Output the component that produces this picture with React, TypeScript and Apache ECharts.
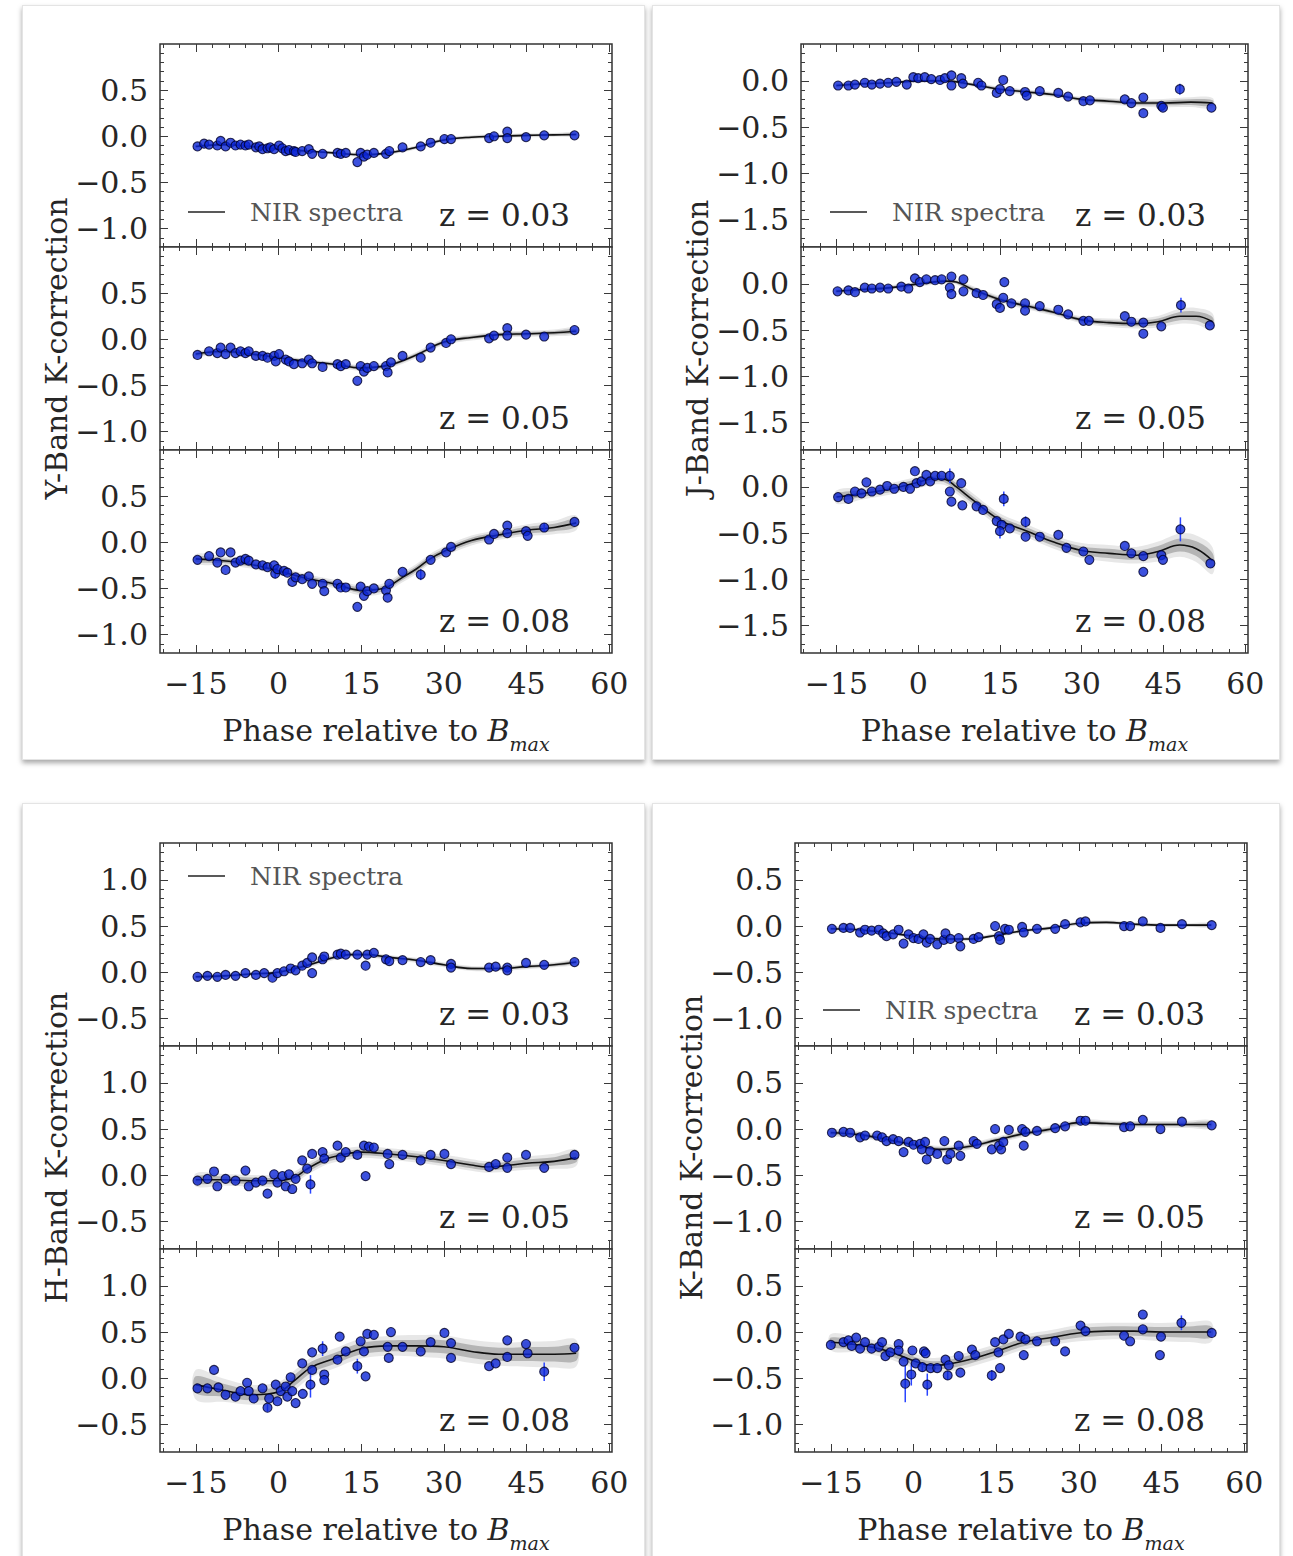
import React, { useEffect, useRef } from "react";
import * as echarts from "echarts";

const FONT = '"DejaVu Serif", serif';
const TEXT_C = "#262626";
const X_MIN = -21.5;
const X_MAX = 60.5;
const X_MAJOR = [-15, 0, 15, 30, 45, 60];
const X_MINOR_STEP = 3;
const Z_LABELS = ["z = 0.03", "z = 0.05", "z = 0.08"];
const LEGEND_TEXT = "NIR spectra";

const Y_TICKS_Y = [-1.0, -0.5, 0.0, 0.5];
const Y_TICKS_J = [-1.5, -1.0, -0.5, 0.0];
const Y_TICKS_H = [-0.5, 0.0, 0.5, 1.0];
const Y_TICKS_K = [-1.0, -0.5, 0.0, 0.5];

// ---------- Y band ----------
const Y_Z03 = [[-14.7,-0.11],[-13.5,-0.08],[-12.6,-0.09],[-11.1,-0.10],[-10.5,-0.05],[-9.6,-0.11],[-8.7,-0.07],[-7.8,-0.10],[-6.9,-0.09],[-6.0,-0.10],[-5.4,-0.09],[-4.1,-0.12],[-3.5,-0.11],[-2.9,-0.14],[-2.0,-0.13],[-1.5,-0.12],[-0.8,-0.14],[0.1,-0.10],[0.7,-0.13],[1.3,-0.16],[1.9,-0.15],[2.8,-0.16],[3.1,-0.17],[4.3,-0.16],[5.5,-0.14],[6.1,-0.19],[8.0,-0.19],[10.7,-0.18],[11.3,-0.19],[12.2,-0.18],[14.3,-0.28],[14.9,-0.18],[15.5,-0.22],[16.1,-0.20],[17.3,-0.18],[19.5,-0.19],[20.1,-0.16],[22.5,-0.12],[25.8,-0.11],[27.6,-0.07],[30.1,-0.03],[31.3,-0.03],[38.2,-0.02],[39.1,0.0],[41.5,0.05],[41.5,-0.02],[44.9,-0.01],[48.2,0.01],[53.7,0.01]];
const Y_FIT03 = [[-15,-0.11,0.01],[-10,-0.09,0.01],[-5,-0.11,0.01],[0,-0.14,0.01],[5,-0.16,0.01],[10,-0.18,0.01],[15,-0.2,0.012],[20,-0.18,0.012],[25,-0.12,0.012],[30,-0.04,0.012],[35,-0.01,0.012],[40,0.0,0.012],[45,0.01,0.012],[50,0.015,0.012],[54,0.02,0.012]];
const Y_Z05 = [[-14.7,-0.17],[-12.6,-0.13],[-11.1,-0.15],[-10.5,-0.09],[-9.6,-0.16],[-8.7,-0.09],[-7.8,-0.15],[-6.9,-0.13],[-6.0,-0.15],[-5.4,-0.13],[-4.1,-0.18],[-2.9,-0.18],[-2.0,-0.20],[-0.8,-0.18],[-0.5,-0.24],[0.1,-0.16],[1.3,-0.22],[1.9,-0.24],[2.8,-0.27],[4.3,-0.26],[5.5,-0.22],[6.1,-0.26],[8.0,-0.30],[10.7,-0.27],[11.3,-0.29],[12.2,-0.27],[14.3,-0.45],[14.9,-0.29],[15.5,-0.35],[16.1,-0.31],[17.3,-0.29],[19.5,-0.29],[19.8,-0.36],[20.4,-0.25],[22.5,-0.18],[25.8,-0.20],[27.6,-0.09],[30.4,-0.04],[31.3,0.0],[38.2,0.01],[39.1,0.04],[41.5,0.12],[41.5,0.04],[44.9,0.05],[48.2,0.03],[53.7,0.10]];
const Y_FIT05 = [[-15,-0.16,0.015],[-10,-0.13,0.015],[-5,-0.16,0.015],[0,-0.2,0.015],[5,-0.24,0.015],[10,-0.27,0.015],[15,-0.31,0.018],[20,-0.28,0.018],[25,-0.17,0.018],[30,-0.03,0.018],[35,0.02,0.018],[40,0.05,0.018],[45,0.06,0.018],[50,0.07,0.02],[54,0.09,0.02]];
const Y_Z08 = [[-14.7,-0.19],[-12.6,-0.15],[-11.1,-0.22],[-10.5,-0.11],[-9.6,-0.30],[-8.7,-0.11],[-7.8,-0.22],[-6.9,-0.20],[-6.0,-0.18],[-5.4,-0.20],[-4.1,-0.24],[-2.9,-0.25],[-2.0,-0.27],[-0.8,-0.25],[-0.6,-0.34,0.05],[-0.2,-0.29],[1.0,-0.31],[1.6,-0.33],[2.5,-0.43],[3.1,-0.38],[4.3,-0.40],[5.5,-0.37],[6.1,-0.45],[8.0,-0.45],[8.3,-0.53],[10.7,-0.45],[11.3,-0.49],[12.2,-0.49],[14.3,-0.70],[14.9,-0.48],[15.5,-0.58],[16.1,-0.53],[17.3,-0.50],[19.5,-0.52],[19.8,-0.60],[20.1,-0.45],[22.5,-0.32],[25.8,-0.35,0.06],[27.6,-0.19],[30.4,-0.11],[31.3,-0.05],[38.2,0.03],[39.1,0.09],[41.5,0.18],[41.5,0.10],[44.9,0.12],[45.2,0.07],[48.2,0.16,0.05],[53.7,0.22]];
const Y_FIT08 = [[-15,-0.18,0.03],[-10,-0.2,0.025],[-5,-0.24,0.025],[0,-0.31,0.025],[5,-0.39,0.025],[10,-0.45,0.025],[15,-0.52,0.03],[19,-0.5,0.03],[22.5,-0.38,0.03],[25,-0.29,0.03],[27.5,-0.18,0.03],[30,-0.1,0.03],[35,0.02,0.03],[40,0.08,0.03],[45,0.13,0.035],[50,0.16,0.04],[54,0.21,0.045]];

// ---------- J band ----------
const J_Z03 = [[-14.7,-0.05],[-12.8,-0.05],[-11.6,-0.04],[-9.8,-0.02],[-8.5,-0.04],[-7.0,-0.03],[-5.5,-0.02],[-4.0,-0.01],[-2.1,-0.04],[-0.9,0.04],[0.0,0.03],[1.2,0.04],[2.4,0.02],[4.0,0.01],[4.9,0.03],[6.1,0.06],[6.1,-0.05],[7.9,0.03],[8.2,-0.03],[11.0,-0.02],[11.6,-0.05],[14.4,-0.13],[15.0,-0.09],[15.6,0.01],[16.8,-0.11],[19.6,-0.12],[19.9,-0.16],[22.3,-0.11],[25.7,-0.13],[27.5,-0.17],[30.3,-0.22],[31.5,-0.21],[37.9,-0.2],[39.1,-0.24],[41.3,-0.35],[41.3,-0.18],[44.6,-0.27],[44.9,-0.29],[48.0,-0.09,0.06],[53.8,-0.29]];
const J_FIT03 = [[-15,-0.05,0.012],[-10,-0.03,0.012],[-5,-0.02,0.012],[0,0.0,0.012],[5,0.0,0.012],[10,-0.04,0.012],[15,-0.09,0.015],[20,-0.12,0.015],[25,-0.15,0.015],[30,-0.2,0.015],[35,-0.22,0.02],[40,-0.24,0.02],[45,-0.24,0.025],[50,-0.23,0.03],[54,-0.24,0.03]];
const J_Z05 = [[-14.8,-0.08],[-12.8,-0.07],[-11.6,-0.09],[-9.8,-0.04],[-8.5,-0.05],[-7.0,-0.04],[-5.5,-0.05],[-3.1,-0.03],[-1.8,-0.05],[-0.6,0.06],[0.3,0.02],[1.5,0.05],[3.1,0.04],[4.3,0.05],[6.1,0.08],[5.8,-0.04],[6.1,-0.11],[8.3,0.05],[8.3,-0.08],[10.7,-0.1],[11.9,-0.12],[14.4,-0.22],[15.0,-0.26],[15.8,0.02],[15.6,-0.15],[17.1,-0.21],[19.6,-0.21],[19.6,-0.29],[22.3,-0.24],[25.7,-0.28],[27.5,-0.33],[30.3,-0.4],[31.3,-0.4],[37.9,-0.35],[39.1,-0.41],[41.3,-0.42],[41.3,-0.54],[44.6,-0.46],[48.2,-0.23,0.08],[53.5,-0.45]];
const J_FIT05 = [[-15,-0.08,0.015],[-10,-0.06,0.015],[-5,-0.04,0.015],[0,0.0,0.015],[5,0.03,0.015],[7,0.02,0.015],[10,-0.06,0.02],[15,-0.17,0.02],[20,-0.24,0.02],[25,-0.31,0.02],[30,-0.39,0.02],[35,-0.42,0.025],[40,-0.43,0.03],[44,-0.41,0.035],[48,-0.35,0.045],[51,-0.35,0.05],[54,-0.41,0.05]];
const J_Z08 = [[-14.7,-0.11],[-12.8,-0.13],[-11.6,-0.05],[-10.4,-0.07],[-9.5,0.05],[-8.5,-0.05],[-7.0,-0.03],[-5.7,0.01],[-4.4,-0.02],[-2.7,0.0],[-1.5,-0.02],[-0.6,0.17],[-0.3,0.04],[0.6,0.06],[1.5,0.13],[2.2,0.06],[3.1,0.12],[4.3,0.12],[5.8,0.12,0.08],[5.8,-0.05],[6.1,-0.16],[7.9,0.04],[8.1,-0.2],[10.7,-0.21],[11.9,-0.25],[14.4,-0.37],[15.3,-0.41],[15.0,-0.48,0.08],[15.7,-0.13,0.08],[16.8,-0.45],[19.7,-0.38,0.06],[19.7,-0.54],[22.3,-0.54],[25.7,-0.52],[27.2,-0.66],[30.3,-0.7],[31.4,-0.79],[37.9,-0.64],[39.1,-0.72],[41.3,-0.75],[41.3,-0.92],[44.6,-0.74],[44.9,-0.79],[48.1,-0.46,0.13],[53.6,-0.83]];
const J_FIT08 = [[-15,-0.11,0.04],[-10,-0.07,0.035],[-5,-0.02,0.035],[0,0.05,0.035],[3,0.09,0.035],[5,0.08,0.035],[7,0.0,0.04],[10,-0.14,0.04],[15,-0.36,0.04],[20,-0.48,0.04],[25,-0.6,0.04],[30,-0.69,0.045],[35,-0.72,0.05],[40,-0.74,0.05],[44,-0.7,0.06],[48,-0.63,0.07],[51,-0.67,0.08],[54,-0.8,0.08]];

// ---------- H band ----------
const H_Z03 = [[-14.7,-0.05],[-12.9,-0.04],[-11.1,-0.05],[-9.6,-0.03],[-7.8,-0.04],[-6.0,-0.01],[-4.1,-0.03],[-2.6,-0.01],[-1.1,-0.06],[-0.2,-0.01],[1.0,0.01],[2.2,0.04],[3.1,0.02],[4.3,0.07],[5.2,0.10],[6.1,0.16],[6.1,-0.01],[8.0,0.14],[8.3,0.17],[10.7,0.19],[11.3,0.2],[12.2,0.19],[14.3,0.19],[15.8,0.07],[16.1,0.19],[17.3,0.21],[19.5,0.14],[20.1,0.12],[22.5,0.13],[25.8,0.11],[27.6,0.13],[31.3,0.09],[31.3,0.05],[38.2,0.05],[39.4,0.06],[41.5,0.05],[41.5,0.02],[44.9,0.1],[48.2,0.08],[53.7,0.11]];
const H_FIT03 = [[-15,-0.05,0.012],[-10,-0.04,0.012],[-5,-0.02,0.012],[0,0.0,0.012],[5,0.07,0.015],[10,0.16,0.015],[13,0.19,0.015],[16,0.19,0.015],[20,0.16,0.015],[25,0.13,0.015],[30,0.08,0.015],[35,0.04,0.015],[40,0.04,0.015],[45,0.06,0.015],[50,0.08,0.015],[54,0.11,0.015]];
const H_Z05 = [[-14.7,-0.06],[-12.9,-0.04],[-11.7,0.04],[-11.1,-0.12],[-9.6,-0.04],[-7.8,-0.06],[-6.0,0.05],[-5.4,-0.12],[-4.1,-0.08],[-2.9,-0.06],[-2.0,-0.2],[-0.8,0.01],[-0.2,-0.08],[0.7,-0.01],[1.3,-0.12],[1.9,0.01],[2.5,-0.15],[3.1,-0.04],[4.3,0.16],[5.2,0.07],[5.8,-0.1,0.1],[6.1,0.23],[8.0,0.25],[8.3,0.18],[10.7,0.32],[11.3,0.19],[12.2,0.25],[14.3,0.22],[15.5,0.32],[15.8,-0.01],[16.4,0.31],[17.3,0.3],[19.8,0.23],[20.1,0.12],[22.5,0.22],[25.8,0.16],[27.6,0.22],[30.1,0.23],[31.3,0.12],[38.2,0.09],[39.4,0.12],[41.5,0.19],[41.5,0.08],[44.9,0.22],[48.2,0.08],[53.7,0.22]];
const H_FIT05 = [[-15,-0.05,0.04],[-10,-0.05,0.035],[-5,-0.06,0.035],[0,-0.06,0.035],[3,-0.02,0.035],[5,0.06,0.035],[8,0.16,0.035],[10,0.2,0.035],[15,0.25,0.035],[20,0.23,0.035],[25,0.2,0.035],[30,0.16,0.035],[35,0.11,0.035],[38,0.09,0.035],[45,0.13,0.04],[50,0.15,0.045],[54,0.19,0.05]];
const H_Z08 = [[-14.7,-0.11],[-12.9,-0.11],[-11.7,0.09],[-10.9,-0.1],[-9.6,-0.18],[-7.8,-0.2],[-6.9,-0.14],[-5.7,-0.05],[-5.4,-0.14],[-4.5,-0.22],[-2.9,-0.11],[-2.0,-0.32,0.04],[-1.7,-0.22],[-0.5,-0.07],[-0.2,-0.25],[0.4,-0.14],[1.3,-0.09],[1.6,-0.2],[2.2,0.01],[2.5,-0.14],[3.1,-0.27],[4.3,0.16],[4.4,-0.17],[5.8,-0.07,0.14],[6.1,0.28],[6.1,0.09],[8.0,0.32,0.08],[8.3,0.04],[8.3,-0.02],[10.7,0.2],[11.1,0.45],[12.2,0.29],[14.3,0.13,0.08],[14.9,0.4],[15.5,0.29],[15.8,0.02],[16.1,0.48],[17.3,0.47],[19.8,0.34],[20.0,0.22],[20.4,0.5],[22.5,0.34],[25.8,0.29],[27.6,0.39],[30.1,0.49],[31.3,0.38],[31.3,0.22],[38.2,0.13],[39.4,0.16],[41.5,0.41],[41.5,0.23],[44.9,0.37],[45.2,0.27],[48.2,0.07,0.1],[53.7,0.33]];
const H_FIT08 = [[-15,-0.07,0.09],[-10,-0.13,0.07],[-5,-0.18,0.06],[0,-0.15,0.06],[3,-0.02,0.06],[6,0.12,0.06],[10,0.21,0.06],[15,0.32,0.06],[20,0.35,0.06],[25,0.35,0.065],[30,0.34,0.07],[35,0.29,0.07],[40,0.26,0.07],[45,0.26,0.075],[50,0.26,0.08],[54,0.27,0.08]];

// ---------- K band ----------
const K_Z03 = [[-14.8,-0.03],[-12.7,-0.02],[-11.5,-0.02],[-9.7,-0.07],[-8.8,-0.04],[-7.6,-0.05],[-6.3,-0.04],[-5.5,-0.08],[-4.9,-0.11],[-3.7,-0.09],[-2.7,-0.04],[-1.8,-0.19],[-0.9,-0.09],[0.0,-0.13],[0.9,-0.14],[1.8,-0.09],[2.4,-0.18],[3.0,-0.14],[4.3,-0.2],[5.5,-0.15],[5.8,-0.08],[6.7,-0.14],[8.2,-0.13],[8.5,-0.22],[10.9,-0.14],[11.8,-0.12],[14.8,0.0],[15.5,-0.11],[15.7,-0.15],[16.6,-0.03],[17.3,-0.04],[19.7,-0.01],[20.0,-0.07],[22.4,-0.03],[25.7,-0.03],[27.5,0.02],[30.3,0.04],[31.2,0.05],[38.2,0.0],[39.3,0.0],[41.6,0.05],[44.8,-0.02],[48.7,0.02],[54.1,0.01]];
const K_FIT03 = [[-15,-0.03,0.012],[-10,-0.04,0.012],[-5,-0.07,0.012],[0,-0.11,0.012],[5,-0.14,0.012],[10,-0.14,0.012],[15,-0.1,0.012],[20,-0.05,0.012],[25,-0.02,0.012],[30,0.03,0.012],[35,0.04,0.012],[40,0.02,0.012],[45,0.01,0.012],[50,0.01,0.012],[54,0.01,0.012]];
const K_Z05 = [[-14.8,-0.04],[-12.7,-0.03],[-11.5,-0.04],[-9.7,-0.09],[-8.8,-0.07],[-6.6,-0.07],[-5.7,-0.09],[-4.9,-0.13],[-3.7,-0.11],[-2.7,-0.13],[-1.8,-0.25],[-0.9,-0.14],[0.0,-0.17],[1.2,-0.16],[1.5,-0.22],[2.1,-0.14],[2.4,-0.33],[3.0,-0.24],[4.3,-0.27],[5.6,-0.13],[6.1,-0.33],[6.7,-0.27],[8.2,-0.18],[8.5,-0.29],[10.9,-0.13],[11.5,-0.16],[14.2,-0.22],[14.8,0.0],[15.5,-0.18],[15.9,-0.22],[16.3,-0.14],[17.3,-0.01],[19.7,0.0],[20.0,-0.18],[20.3,-0.03],[22.4,-0.02],[25.7,0.01],[27.5,0.03],[30.3,0.09],[31.2,0.09],[38.2,0.02],[39.3,0.03],[41.6,0.1],[44.8,0.0],[48.7,0.08],[54.1,0.04]];
const K_FIT05 = [[-15,-0.04,0.02],[-10,-0.06,0.02],[-5,-0.11,0.02],[0,-0.17,0.02],[5,-0.22,0.02],[10,-0.19,0.02],[15,-0.12,0.02],[20,-0.05,0.02],[25,0.0,0.02],[30,0.07,0.02],[35,0.06,0.02],[40,0.05,0.02],[45,0.05,0.02],[50,0.05,0.022],[54,0.05,0.025]];
const K_Z08 = [[-15.0,-0.14],[-12.7,-0.11],[-11.8,-0.09],[-11.2,-0.15],[-10.4,-0.06],[-9.7,-0.18],[-8.8,-0.11],[-7.6,-0.18],[-6.3,-0.16],[-5.7,-0.11],[-5.1,-0.26],[-4.2,-0.22],[-2.7,-0.13],[-2.7,-0.2],[-1.8,-0.32],[-1.5,-0.56,0.2],[-0.4,-0.46,0.12],[-0.2,-0.2],[0.4,-0.34],[1.6,-0.38,0.05],[1.9,-0.21],[2.2,-0.23],[2.5,-0.57,0.12],[3.1,-0.39],[4.3,-0.39],[5.8,-0.3],[6.2,-0.47,0.05],[6.4,-0.36],[8.2,-0.26],[8.5,-0.44],[10.6,-0.19],[11.2,-0.25],[14.2,-0.47,0.06],[14.8,-0.11],[15.4,-0.22],[15.7,-0.39],[16.3,-0.08],[17.3,-0.02],[19.4,-0.05],[20.0,-0.25],[20.3,-0.08],[22.4,-0.1],[25.7,-0.1],[27.5,-0.21],[30.3,0.07],[31.2,0.01],[38.2,-0.04],[39.3,-0.1],[41.6,0.19],[41.6,0.03],[44.9,-0.05],[44.7,-0.25],[48.6,0.1,0.08],[54.1,-0.01]];
const K_FIT08 = [[-15,-0.11,0.05],[-10,-0.14,0.045],[-5,-0.2,0.045],[0,-0.31,0.045],[3,-0.36,0.045],[6,-0.35,0.045],[10,-0.3,0.045],[15,-0.21,0.045],[20,-0.11,0.045],[25,-0.06,0.045],[30,-0.01,0.05],[35,0.01,0.05],[40,0.01,0.05],[45,0.0,0.055],[50,0.0,0.06],[54,0.0,0.06]];

const SUB_H = 203;
const PANELS = [
  { title: "Y-Band K-correction", left: 160, width: 452, top: 44, yMin: -1.2, yMax: 1.0, yTicks: Y_TICKS_Y,
    subs: [[Y_Z03, Y_FIT03], [Y_Z05, Y_FIT05], [Y_Z08, Y_FIT08]], legend: { dx: 28, dy: 168 } },
  { title: "J-Band K-correction", left: 801, width: 447, top: 44, yMin: -1.8, yMax: 0.4, yTicks: Y_TICKS_J,
    subs: [[J_Z03, J_FIT03], [J_Z05, J_FIT05], [J_Z08, J_FIT08]], legend: { dx: 29, dy: 168 } },
  { title: "H-Band K-correction", left: 160, width: 452, top: 843, yMin: -0.8, yMax: 1.4, yTicks: Y_TICKS_H,
    subs: [[H_Z03, H_FIT03], [H_Z05, H_FIT05], [H_Z08, H_FIT08]], legend: { dx: 28, dy: 33 } },
  { title: "K-Band K-correction", left: 795, width: 452, top: 843, yMin: -1.3, yMax: 0.9, yTicks: Y_TICKS_K,
    subs: [[K_Z03, K_FIT03], [K_Z05, K_FIT05], [K_Z08, K_FIT08]], legend: { dx: 28, dy: 167 } },
];

const CARDS = [
  { left: 22, top: 5, width: 623, height: 755 },
  { left: 652, top: 5, width: 628, height: 755 },
  { left: 22, top: 803, width: 623, height: 770 },
  { left: 652, top: 803, width: 628, height: 770 },
];

const fmtNum = (v: number, d: number) => (v < 0 ? "\u2212" + Math.abs(v).toFixed(d) : v.toFixed(d));

function stepValues(min: number, max: number, step: number, skip: number[]) {
  const out: number[] = [];
  const start = Math.ceil(min / step - 1e-9);
  const end = Math.floor(max / step + 1e-9);
  for (let i = start; i <= end; i++) {
    const v = Math.round(i * step * 1000) / 1000;
    if (!skip.some((s) => Math.abs(s - v) < 1e-6)) out.push(v);
  }
  return out;
}

const TICK_STYLE = { color: "#3a3a3a", width: 1 };

function buildOption() {
  const grid: any[] = [];
  const xAxis: any[] = [];
  const yAxis: any[] = [];
  const series: any[] = [];
  const graphic: any[] = [];

  const xMinor = stepValues(X_MIN, X_MAX, X_MINOR_STEP, X_MAJOR);

  const errBar = (params: any, api: any) => {
    const x = api.value(0), y = api.value(1), e = api.value(2);
    const a = api.coord([x, y - e]);
    const b = api.coord([x, y + e]);
    return { type: "line", shape: { x1: a[0], y1: a[1], x2: b[0], y2: b[1] }, style: { stroke: "#2a45ff", lineWidth: 1.5 } };
  };

  const bandRenderer = (fit: number[][]) => (params: any, api: any) => {
    const upper = fit.map((f) => api.coord([f[0], f[1] + f[2]]));
    const lower = fit.map((f) => api.coord([f[0], f[1] - f[2]])).reverse();
    const outer = fit.map((f) => api.coord([f[0], f[1] + 1.8 * f[2]]));
    const outerLow = fit.map((f) => api.coord([f[0], f[1] - 1.8 * f[2]])).reverse();
    return {
      type: "group",
      children: [
        { type: "polygon", shape: { points: outer.concat(outerLow), smooth: 0.35 }, style: { fill: "rgba(120,120,120,0.18)" } },
        { type: "polygon", shape: { points: upper.concat(lower), smooth: 0.35 }, style: { fill: "rgba(90,90,90,0.35)" } },
      ],
    };
  };

  PANELS.forEach((pn) => {
    const yMajor = pn.yTicks.filter((v) => v > pn.yMin && v < pn.yMax);
    const yMinor = stepValues(pn.yMin, pn.yMax, 0.1, yMajor).filter((v) => v > pn.yMin + 1e-6 && v < pn.yMax - 1e-6);
    pn.subs.forEach((sub, si) => {
      const [pts, fit] = sub as any;
      const gi = grid.length;
      const top = pn.top + si * SUB_H;
      grid.push({ left: pn.left, top, width: pn.width, height: SUB_H, show: true, borderColor: "#333", borderWidth: 1.5, backgroundColor: "#fff", containLabel: false });
      const isBottom = si === 2;
      const xi = xAxis.length;
      const mkX = (pos: string, ticks: number[], len: number, labels: boolean, withName: boolean) => ({
        type: "value", gridIndex: gi, min: X_MIN, max: X_MAX, position: pos,
        axisLine: { show: false, onZero: false }, splitLine: { show: false },
        axisTick: { show: true, inside: true, length: len, customValues: ticks, lineStyle: TICK_STYLE },
        axisLabel: { show: labels, customValues: X_MAJOR, margin: 15, formatter: (v: number) => fmtNum(v, 0),
          fontFamily: FONT, fontSize: 30, color: TEXT_C },
        name: withName ? "{a|Phase relative to }{b|B}{c|max}" : "",
        nameLocation: "middle", nameGap: 55,
        nameTextStyle: { rich: {
          a: { fontFamily: FONT, fontSize: 30, color: TEXT_C },
          b: { fontFamily: FONT, fontSize: 30, fontStyle: "italic", color: TEXT_C },
          c: { fontFamily: FONT, fontSize: 19, fontStyle: "italic", color: TEXT_C, padding: [26, 0, 0, 0] },
        } },
      });
      xAxis.push(mkX("bottom", X_MAJOR, 8, isBottom, isBottom));
      xAxis.push(mkX("bottom", xMinor, 4, false, false));
      xAxis.push(mkX("top", X_MAJOR, 8, false, false));
      xAxis.push(mkX("top", xMinor, 4, false, false));
      const yi = yAxis.length;
      const mkY = (pos: string, ticks: number[], len: number, labels: boolean, withName: boolean) => ({
        type: "value", gridIndex: gi, min: pn.yMin, max: pn.yMax, position: pos,
        axisLine: { show: false, onZero: false }, splitLine: { show: false },
        axisTick: { show: true, inside: true, length: len, customValues: ticks, lineStyle: TICK_STYLE },
        axisLabel: { show: labels, customValues: yMajor, margin: 12, formatter: (v: number) => fmtNum(v, 1),
          fontFamily: FONT, fontSize: 30, color: TEXT_C },
        name: withName ? pn.title : "",
        nameLocation: "middle", nameRotate: 90, nameGap: 77,
        nameTextStyle: { fontFamily: FONT, fontSize: 30, color: TEXT_C },
      });
      yAxis.push(mkY("left", yMajor, 8, true, si === 1));
      yAxis.push(mkY("left", yMinor, 4, false, false));
      yAxis.push(mkY("right", yMajor, 8, false, false));
      yAxis.push(mkY("right", yMinor, 4, false, false));

      const common = { xAxisIndex: xi, yAxisIndex: yi, silent: true };
      series.push({ ...common, type: "custom", renderItem: bandRenderer(fit), data: [[fit[0][0], fit[0][1]]],
        encode: { x: 0, y: 1 }, z: 1, clip: true });
      series.push({ ...common, name: LEGEND_TEXT, type: "line", symbol: "none", smooth: 0.4,
        lineStyle: { color: "#111", width: 1.6 }, data: fit.map((f: number[]) => [f[0], f[1]]), z: 2 });
      series.push({ ...common, type: "custom", renderItem: errBar, encode: { x: 0, y: 1 },
        data: pts.filter((p: number[]) => p.length > 2), z: 3 });
      series.push({ ...common, type: "scatter", symbolSize: 9,
        itemStyle: { color: "#0b25d6", borderColor: "#00002a", borderWidth: 1.1 },
        data: pts.map((p: number[]) => [p[0], p[1]]), z: 4 });

      graphic.push({ type: "text", x: pn.left + pn.width - 42, y: top + 171, z: 10,
        style: { text: Z_LABELS[si], fontFamily: FONT, fontSize: 31, fill: TEXT_C, align: "right", verticalAlign: "middle" } });
      if (si === 0) {
        const lx = pn.left + pn.legend.dx, ly = top + pn.legend.dy;
        graphic.push({ type: "line", z: 10, shape: { x1: lx, y1: ly, x2: lx + 37, y2: ly }, style: { stroke: "#222", lineWidth: 1.5 } });
        graphic.push({ type: "text", z: 10, x: lx + 62, y: ly,
          style: { text: LEGEND_TEXT, fontFamily: FONT, fontSize: 25, fill: "#555", align: "left", verticalAlign: "middle" } });
      }
    });
  });

  return { animation: false, backgroundColor: "transparent", grid, xAxis, yAxis, series, graphic };
}

function Chart() {
  const ref = useRef<HTMLDivElement>(null);
  useEffect(() => {
    if (!ref.current) return;
    const chart = echarts.init(ref.current, undefined, { renderer: "svg" });
    chart.setOption(buildOption() as any);
    return () => chart.dispose();
  }, []);
  return <div ref={ref} style={{ position: "absolute", left: 0, top: 0, width: 1293, height: 1556 }} />;
}

export default function App() {
  return (
    <div style={{ position: "absolute", left: 0, top: 0, width: 1293, height: 1556, overflow: "hidden", background: "#fff" }}>
      {CARDS.map((c, i) => (
        <div key={i} style={{ position: "absolute", left: c.left, top: c.top, width: c.width, height: c.height,
          background: "#fff", border: "1px solid #e4e4e4", boxSizing: "border-box", boxShadow: "0 3px 5px rgba(0,0,0,0.35)" }} />
      ))}
      <Chart />
    </div>
  );
}
